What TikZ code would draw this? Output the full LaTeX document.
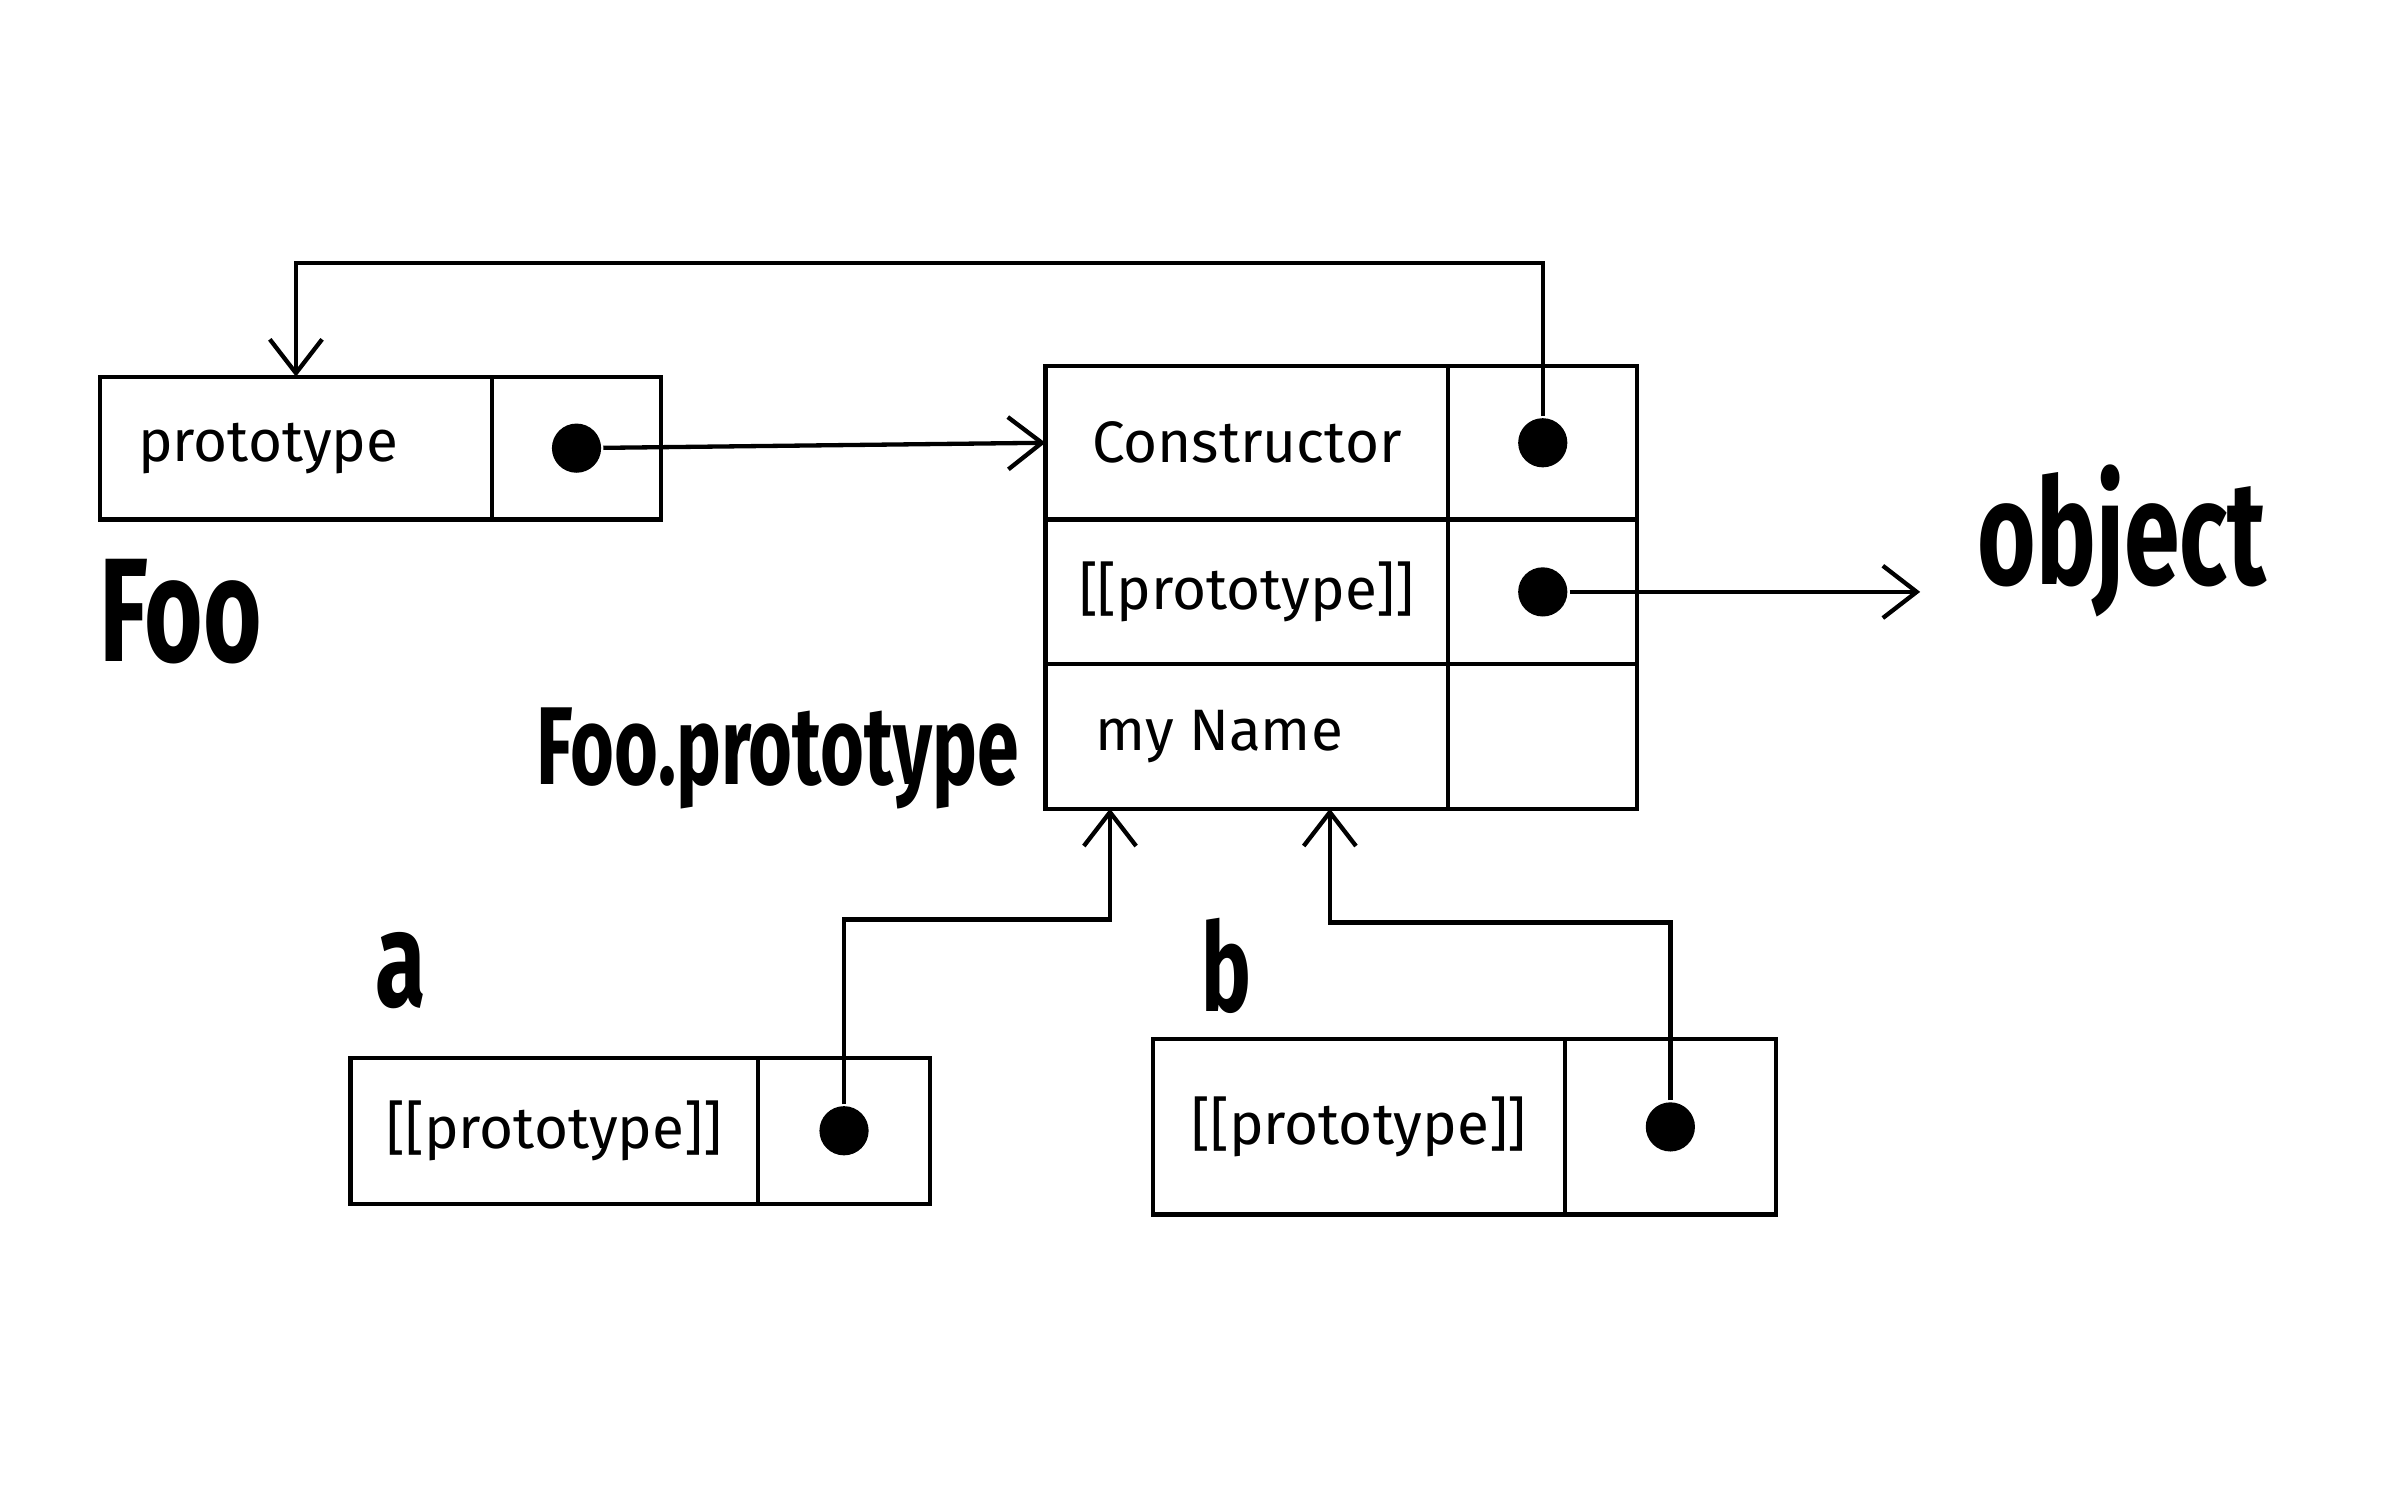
\documentclass[tikz,border=0pt]{standalone}
\usepackage{fontspec}
\setmainfont{Fira Sans}
\newfontfamily\tagfont{Fira Sans}[FakeStretch=0.68]
\usetikzlibrary{arrows.meta,positioning}

\begin{document}
\begin{tikzpicture}[x=0.5pt, y=-0.5pt, line width=1.4pt,
    >={Straight Barb[length=11pt,width=17pt]},
    cell/.style={draw, inner sep=0pt, outer sep=0pt, font=\fontsize{19}{19}\selectfont},
    dot/.style={circle, fill, inner sep=0pt, minimum size=16pt},
    objlabel/.style={inner sep=0pt, font=\tagfont\bfseries\fontsize{40}{40}\selectfont}]
      \useasboundingbox (0,0) rectangle (1552,970);
      % Foo
      \node[cell, minimum width=127.5pt, minimum height=46.5pt, anchor=north west] (fookey) at (65,245) {prototype\kern18pt\null};
      \node[cell, minimum width=55pt, minimum height=46.5pt, right=0pt of fookey] (fooval) {};
      \node[dot] (foodot) at (fooval.center) {};
      \node[objlabel, anchor=base west, font=\tagfont\bfseries\fontsize{48}{48}\selectfont] (foo) at (63,430) {Foo};
      % Foo.prototype
      \node[cell, minimum width=131pt, minimum height=50pt, anchor=north west] (ctorkey) at (680,238) {Constructor};
      \node[cell, minimum width=61.5pt, minimum height=50pt, right=0pt of ctorkey] (ctorval) {};
      \node[cell, minimum width=131pt, minimum height=47pt, below=0pt of ctorkey] (protokey) {[[prototype]]};
      \node[cell, minimum width=61.5pt, minimum height=47pt, right=0pt of protokey] (protoval) {};
      \node[cell, minimum width=131pt, minimum height=47pt, below=0pt of protokey] (namekey) {my Name\kern18pt\null};
      \node[cell, minimum width=61.5pt, minimum height=47pt, right=0pt of namekey] (nameval) {};
      \node[dot] (ctordot) at (ctorval.center) {};
      \node[dot] (protodot) at (protoval.center) {};
      \node[objlabel, anchor=base east, font=\tagfont\bfseries\fontsize{36}{36}\selectfont] (fooproto) at (664,510) {Foo.prototype};
      % object
      \node[objlabel, anchor=base west, font=\tagfont\bfseries\fontsize{48}{48}\selectfont] (object) at (1285,380) {object};
      % a
      \node[cell, minimum width=132.5pt, minimum height=47.5pt, anchor=north west] (akey) at (228,688) {[[prototype]]};
      \node[cell, minimum width=56pt, minimum height=47.5pt, right=0pt of akey] (aval) {};
      \node[dot] (adot) at (aval.center) {};
      \node[objlabel, anchor=base west, font=\tagfont\bfseries\fontsize{44}{44}\selectfont] (alabel) at (243,655) {a};
      % b
      \node[cell, minimum width=134pt, minimum height=57pt, anchor=north west] (bkey) at (750,676) {[[prototype]]};
      \node[cell, minimum width=68.5pt, minimum height=57pt, right=0pt of bkey] (bval) {};
      \node[dot] (bdot) at (bval.center) {};
      \node[objlabel, anchor=base west] (blabel) at (780,658) {b};
      % pointers
      \draw[->] (foodot) -- (ctorkey.west);
      \draw[->] (ctordot) -- (ctordot |- 0,171) -| (fookey.north);
      \draw[->, shorten >=18pt] (protodot) -- (protodot -| object.west);
      \draw[->] (adot) -- (adot |- 0,598) -| ([xshift=-44.5pt]namekey.south);
      \draw[->] (bdot) -- (bdot |- 0,600) -| ([xshift=27pt]namekey.south);
    \end{tikzpicture}
\end{document}
